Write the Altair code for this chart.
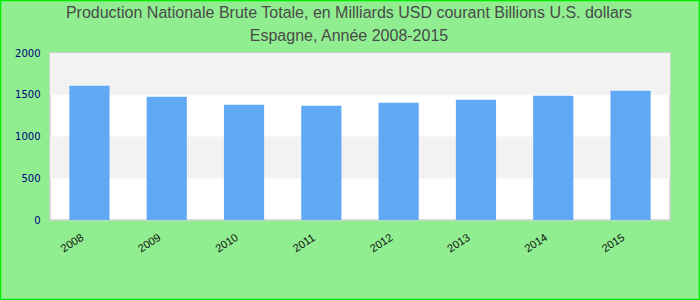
import altair as alt
import pandas as pd

years = ["2008", "2009", "2010", "2011", "2012", "2013", "2014", "2015"]
values = [1608, 1476, 1380, 1368, 1404, 1440, 1488, 1548]
band_lo = [500, 1500]
band_hi = [1000, 2000]
title_lines = ["Production Nationale Brute Totale, en Milliards USD courant Billions U.S. dollars",
               "Espagne, Année 2008-2015"]

df = pd.DataFrame({"year": years, "value": values})
bands = pd.DataFrame({"lo": band_lo, "hi": band_hi})
one = pd.DataFrame({"i": [0]})

yscale = alt.Scale(domain=[0, 2000], nice=False)

stripes = alt.Chart(bands).mark_rect(color="#f2f2f2").encode(
    y=alt.Y("lo:Q", scale=yscale),
    y2="hi:Q",
)

bars = alt.Chart(df).mark_bar(color="#62a9f5").encode(
    x=alt.X("year:N", sort=years, title=None,
            scale=alt.Scale(paddingInner=0.48, paddingOuter=0.25),
            axis=alt.Axis(labelAngle=-33, labelAlign="center", labelBaseline="middle",
                          labelOffset=-17, labelPadding=23, ticks=False, domain=False,
                          labelFont="Liberation Sans", labelFontSize=11, labelColor="#111111")),
    y=alt.Y("value:Q", scale=yscale, title=None,
            axis=alt.Axis(values=[0, 500, 1000, 1500, 2000], format="d", ticks=False, domain=False,
                          grid=False, labelPadding=10, labelFont="DejaVu Sans", labelFontSize=10,
                          labelColor="#000080")),
)

border = alt.Chart(one).mark_rect(fill=None, stroke="#00ee00", strokeWidth=1.5, clip=False).encode(
    x=alt.value(-49.5), x2=alt.value(649.5), y=alt.value(-52.5), y2=alt.value(246.5)
)

title_style = dict(font="Liberation Sans", fontSize=16, fontWeight="normal", color="#4a4a4a",
                   align="center", baseline="middle")
t1 = alt.Chart(one).mark_text(**title_style).encode(
    x=alt.value(299), y=alt.value(-40), text=alt.value(title_lines[0]))
t2 = alt.Chart(one).mark_text(**title_style).encode(
    x=alt.value(299), y=alt.value(-17), text=alt.value(title_lines[1]))

chart = alt.layer(stripes, bars, border, t1, t2).properties(
    width=620, height=167,
    padding={"left": 50, "top": 53, "right": 30, "bottom": 80},
    autosize=alt.AutoSizeParams(type="none"),
    background="#90EE90",
).configure_view(fill="white", stroke="#d0d0d0", strokeWidth=1.5)

chart.save("out.html", embed_options={"renderer": "svg", "actions": False})
